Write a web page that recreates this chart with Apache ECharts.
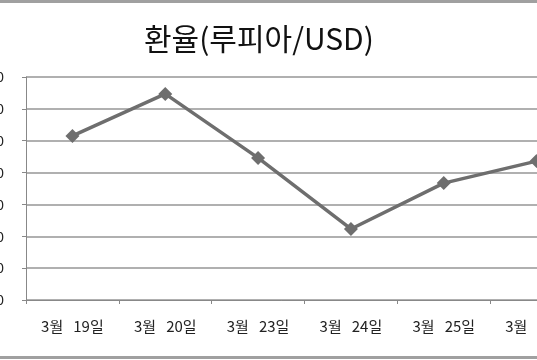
<!DOCTYPE html>
<html><head><meta charset="utf-8">
<script src="https://cdn.jsdelivr.net/npm/echarts@6/dist/echarts.min.js"></script>
<style>html,body{margin:0;padding:0;background:#fff}#c{width:537px;height:360px}</style>
</head><body><div id="c"></div>
<script>
var titleText = '환율(루피아/USD)';
var categories = ['3월   19일', '3월   20일', '3월   23일', '3월   24일', '3월   25일', '3월   26일'];
var rates = [9171.5, 9184.7, 9164.6, 9142.3, 9156.7, 9163.6];
var yMin = 9120, yMax = 9190, yStep = 10;

var chart = echarts.init(document.getElementById('c'), null, {renderer: 'canvas'});
chart.setOption({
  backgroundColor: '#fff',
  animation: false,
  title: {
    text: titleText, left: 139, top: 19,
    textStyle: {fontFamily: 'Noto Sans CJK KR', fontSize: 30, fontWeight: 'normal', color: '#111'}
  },
  graphic: [
    {type: 'rect', shape: {x: 0, y: 0, width: 537, height: 3}, style: {fill: '#a0a0a0'}},
    {type: 'rect', shape: {x: 0, y: 356, width: 537, height: 3}, style: {fill: '#a0a0a0'}}
  ],
  grid: {left: 26, top: 77, width: 557, height: 223, containLabel: false, outerBoundsMode: 'none'},
  xAxis: {
    type: 'category', data: categories, boundaryGap: true,
    axisLine: {lineStyle: {color: '#888', width: 1}},
    axisTick: {show: true, length: 4, lineStyle: {color: '#888'}},
    axisLabel: {margin: 19, color: '#222', fontSize: 15, fontFamily: 'Noto Sans CJK KR', interval: 0}
  },
  yAxis: {
    type: 'value', min: yMin, max: yMax, interval: yStep,
    axisLine: {show: true, lineStyle: {color: '#888', width: 1}},
    axisTick: {show: true, length: 4, lineStyle: {color: '#888'}},
    splitLine: {lineStyle: {color: '#b0b0b0', width: 2}},
    axisLabel: {margin: 22, color: '#222', fontSize: 14, fontFamily: 'Noto Sans CJK KR',
      formatter: function (v) { return v.toLocaleString('en-US'); }}
  },
  series: [{
    type: 'line', data: rates,
    symbol: 'diamond', symbolSize: 14,
    lineStyle: {color: '#6e6e6e', width: 3.5},
    itemStyle: {color: '#6e6e6e'}
  }]
});
</script></body></html>
